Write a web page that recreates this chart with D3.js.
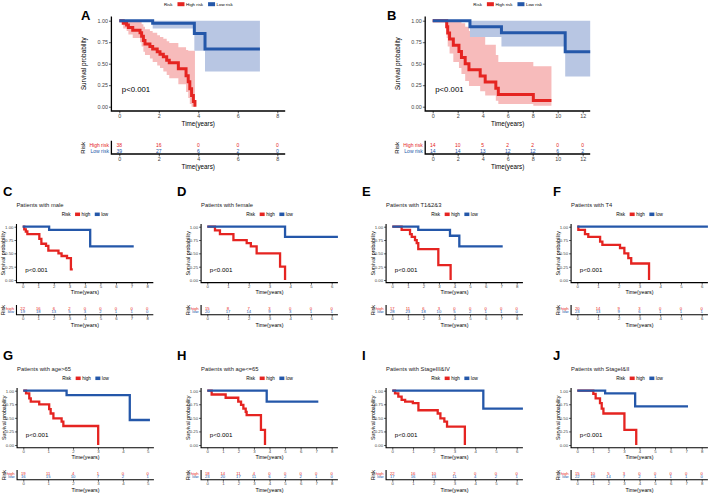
<!DOCTYPE html>
<html><head><meta charset="utf-8">
<script src="https://cdn.jsdelivr.net/npm/d3@7"></script>
<style>body{margin:0;background:#fff}svg{display:block}</style>
</head><body>
<svg id="c" width="708" height="493"></svg>
<script>
// ---------------- DATA ----------------
// Panel A (training cohort)
const A_ticks = [0, 2, 4, 6, 8];
const A_high_t  = [0, 0.2, 0.37, 0.46, 0.68, 1.05, 1.13, 1.22, 1.30, 1.55, 1.69, 1.92, 2.06, 2.23, 2.40, 2.53, 2.99, 3.38, 3.49, 3.57, 3.66, 3.75, 3.83];
const A_high_s  = [1, 0.97, 0.95, 0.92, 0.89, 0.86, 0.82, 0.77, 0.73, 0.70, 0.67, 0.64, 0.61, 0.58, 0.54, 0.51, 0.44, 0.36, 0.29, 0.21, 0.13, 0.06, 0];
const A_high_hi = [1, 1, 1, 1, 1, 0.99, 0.96, 0.93, 0.90, 0.88, 0.86, 0.83, 0.81, 0.79, 0.76, 0.74, 0.69, 0.66, 0.65, 0.65, 0.65, 0.65, 0.65];
const A_high_lo = [1, 0.91, 0.88, 0.84, 0.80, 0.75, 0.70, 0.64, 0.60, 0.56, 0.52, 0.48, 0.45, 0.41, 0.37, 0.33, 0.26, 0.17, 0.10, 0.03, 0, 0, 0];
const A_low_t   = [0, 1.69, 3.8, 4.34, 7.12];
const A_low_s   = [1, 0.97, 0.85, 0.67, 0.67];
const A_low_hi  = [1, 1, 1, 1, 1];
const A_low_lo  = [1, 0.91, 0.65, 0.41, 0.41];
const A_risk_high = [38, 16, 0, 0, 0];
const A_risk_low  = [39, 27, 6, 2, 0];

// Panel B (test cohort)
const B_ticks = [0, 2, 4, 6, 8, 10, 12];
const B_high_t  = [0, 1.12, 1.2, 1.35, 1.65, 2.1, 2.3, 2.6, 2.9, 3.8, 4.2, 5.05, 5.25, 8.05, 9.5];
const B_high_s  = [1, 0.929, 0.857, 0.786, 0.714, 0.643, 0.571, 0.5, 0.429, 0.357, 0.286, 0.214, 0.143, 0.071, 0.071];
const B_high_hi = [1, 1, 1, 1, 1, 1, 0.97, 0.93, 0.88, 0.82, 0.72, 0.6, 0.52, 0.47, 0.47];
const B_high_lo = [1, 0.8, 0.7, 0.62, 0.52, 0.45, 0.38, 0.3, 0.24, 0.18, 0.13, 0.07, 0.03, 0.01, 0.01];
const B_low_t   = [0, 2.98, 5.5, 10.6, 12.6];
const B_low_s   = [1, 0.93, 0.86, 0.64, 0.64];
const B_low_hi  = [1, 1, 1, 1, 1];
const B_low_lo  = [1, 0.81, 0.70, 0.35, 0.35];
const B_risk_high = [14, 10, 5, 2, 2, 0, 0];
const B_risk_low  = [14, 14, 13, 12, 12, 6, 2];

// Subgroup panels
const C_ticks = [0,1,2,3,4,5,6,7,8];
const C_high_t = [0, 0.1, 0.2, 0.3, 1.07, 1.2, 1.5, 1.65, 2.3, 2.5, 2.85, 3.1, 3.22];
const C_high_s = [1, 0.95, 0.91, 0.86, 0.77, 0.68, 0.64, 0.55, 0.5, 0.45, 0.41, 0.2, 0.2];
const C_low_t  = [0, 1.7, 4.34, 7.14];
const C_low_s  = [1, 0.94, 0.63, 0.63];
const C_risk_high = [22, 16, 6, 2, 0, 0, 0, 0, 0];
const C_risk_low  = [19, 18, 13, 5, 3, 2, 1, 1, 0];

const D_ticks = [0,1,2,3,4,5,6];
const D_high_t = [0, 0.37, 0.61, 1.26, 1.9, 2.1, 2.38, 3.51, 3.75];
const D_high_s = [1, 0.93, 0.86, 0.75, 0.69, 0.63, 0.5, 0.25, 0];
const D_low_t  = [0, 3.75, 6.3];
const D_low_s  = [1, 0.81, 0.81];
const D_risk_high = [15, 8, 7, 3, 0, 0, 0];
const D_risk_low  = [20, 17, 14, 9, 3, 1, 1];

const E_ticks = [0,1,2,3,4,5,6,7,8];
const E_high_t = [0, 0.6, 1.14, 1.25, 1.46, 1.57, 1.67, 2.96, 3.75];
const E_high_s = [1, 0.94, 0.86, 0.81, 0.75, 0.69, 0.58, 0.28, 0];
const E_low_t  = [0, 1.67, 3.71, 4.31, 7.1];
const E_low_s  = [1, 0.94, 0.83, 0.63, 0.63];
const E_risk_high = [17, 11, 6, 3, 0, 0, 0, 0, 0];
const E_risk_low  = [28, 23, 18, 10, 5, 2, 1, 1, 0];

const F_ticks = [0,1,2,3,4,5,6];
const F_high_t = [0, 0.05, 0.37, 0.53, 1.1, 1.21, 2.06, 2.27, 2.46, 2.6, 3.46];
const F_high_s = [1, 0.94, 0.86, 0.81, 0.72, 0.66, 0.6, 0.5, 0.41, 0.31, 0];
const F_low_t  = [0, 6.3];
const F_low_s  = [1, 1];
const F_risk_high = [20, 14, 9, 3, 0, 0, 0];
const F_risk_low  = [23, 13, 9, 6, 1, 1, 1];

const G_ticks = [0,1,2,3,4,5];
const G_high_t = [0, 0.11, 0.24, 0.3, 0.64, 1.04, 1.1, 1.21, 1.54, 1.61, 3.01];
const G_high_s = [1, 0.95, 0.86, 0.8, 0.75, 0.66, 0.58, 0.49, 0.43, 0.35, 0];
const G_low_t  = [0, 1.74, 4.28, 5.09];
const G_low_s  = [1, 0.92, 0.46, 0.46];
const G_risk_high = [19, 11, 4, 1, 0, 0];
const G_risk_low  = [16, 15, 10, 7, 2, 1];

const H_ticks = [0,1,2,3,4,5,6,7,8];
const H_high_t = [0, 0.28, 1.18, 1.99, 2.17, 2.32, 2.47, 2.53, 3.45, 3.71];
const H_high_s = [1, 0.93, 0.87, 0.8, 0.74, 0.67, 0.61, 0.55, 0.28, 0];
const H_low_t  = [0, 3.82, 7.14];
const H_low_s  = [1, 0.8, 0.8];
const H_risk_high = [18, 14, 11, 4, 0, 0, 0, 0, 0];
const H_risk_low  = [23, 20, 17, 11, 6, 2, 2, 1, 0];

const I_ticks = [0,1,2,3,4,5,6];
const I_high_t = [0, 0.13, 0.29, 0.45, 0.62, 0.99, 1.26, 2.19, 2.32, 2.51, 2.64, 3.5];
const I_high_s = [1, 0.95, 0.89, 0.83, 0.8, 0.77, 0.64, 0.58, 0.49, 0.43, 0.34, 0];
const I_low_t  = [0, 4.39, 6.3];
const I_low_s  = [1, 0.67, 0.67];
const I_risk_high = [22, 16, 10, 2, 0, 0, 0];
const I_risk_low  = [17, 16, 13, 11, 4, 2, 1];

const J_ticks = [0,1,2,3,4,5,6,7,8];
const J_high_t = [0, 1.03, 1.18, 1.46, 1.57, 1.68, 3.03, 3.79];
const J_high_s = [1, 0.94, 0.86, 0.77, 0.67, 0.58, 0.28, 0];
const J_low_t  = [0, 1.79, 3.72, 7.12];
const J_low_s  = [1, 0.95, 0.71, 0.71];
const J_risk_high = [15, 10, 5, 3, 0, 0, 0, 0, 0];
const J_risk_low  = [22, 19, 14, 7, 2, 1, 1, 1, 0];

const yTicks = [0, 0.25, 0.5, 0.75, 1];
const bigLabels = ["High risk", "Low risk"];
const smallLabels = ["high", "low"];
const titles = {
  C: "Patients with male", D: "Patients with female", E: "Patients with T1&2&3", F: "Patients with T4",
  G: "Patients with age>65", H: "Patients with age<=65", I: "Patients with StageIII&IV", J: "Patients with StageI&II"
};

// ---------------- STYLE ----------------
const FONT = '"Liberation Sans", Arial, Helvetica, sans-serif';
const RED = "#E52421", BLUE = "#2457A9", RED_FILL = "#F7BBBB", BLUE_FILL = "#B8C6E3";

const bigStyle = {lw: 3, axw: 1.3, tick: 2.4, pad: 0.6, tickFs: 5.4, titleFs: 6.3, pFs: 7.8,
  legFs: 4.4, keyW: 7, keyH: 4, legGap: 5, tableFs: 5, riskFs: 6, yTitleOff: 28, xTitleOff: 12, tTitleOff: 12.5};
const smallStyle = {lw: 2.3, axw: 1.1, tick: 2, pad: 0.6, tickFs: 4.3, titleFs: 5.3, pFs: 6.2,
  legFs: 4.6, keyW: 5, keyH: 3.5, legGap: 4.5, tableFs: 4.2, riskFs: 5.3, yTitleOff: 13.5, xTitleOff: 9.3, tTitleOff: 10,
  panelFs: 5.8};

const svg = d3.select("#c");

function drawPanel(p) {
  const st = p.style;
  const g = svg.append("g");
  const x = d3.scaleLinear().domain([0, p.xmax]).range([p.x0, p.x0 + p.width]);
  const y = d3.scaleLinear().domain([0, 1]).range([p.yBot, p.yTop]);
  const L = x(-0.05 * p.xmax), R = x(1.05 * p.xmax), B = y(-0.05), T = y(1.05);

  // confidence bands
  p.series.forEach(s => {
    if (!s.lo) return;
    const pts = s.t.map((t, i) => ({t, lo: s.lo[i], hi: s.hi[i]}));
    g.append("path")
      .attr("d", d3.area().curve(d3.curveStepAfter).x(d => x(d.t)).y0(d => y(d.lo)).y1(d => y(d.hi))(pts))
      .attr("fill", s.fill);
  });
  // survival curves
  p.series.forEach(s => {
    const pts = s.t.map((t, i) => ({t, v: s.s[i]}));
    g.append("path")
      .attr("d", d3.line().curve(d3.curveStepAfter).x(d => x(d.t)).y(d => y(d.v))(pts))
      .attr("fill", "none").attr("stroke", s.color).attr("stroke-width", st.lw);
  });

  // axes
  const gx = g.append("g").attr("transform", `translate(0,${B})`)
    .call(d3.axisBottom(x).tickValues(p.ticks).tickSize(st.tick).tickSizeOuter(0).tickPadding(st.pad).tickFormat(d3.format("d")));
  const gy = g.append("g").attr("transform", `translate(${L},0)`)
    .call(d3.axisLeft(y).tickValues(yTicks).tickSize(st.tick).tickSizeOuter(0).tickPadding(st.pad + 0.4).tickFormat(d3.format(".2f")));
  [gx, gy].forEach(a => {
    a.attr("font-family", FONT);
    a.select(".domain").remove();
    a.selectAll("text").attr("font-size", st.tickFs).attr("fill", "#444");
    a.selectAll("line").attr("stroke", "#333").attr("stroke-width", 0.8);
  });
  g.append("path").attr("d", `M${L},${T}V${B}H${R}`).attr("fill", "none")
    .attr("stroke", "#000").attr("stroke-width", st.axw);

  g.append("text").attr("x", (L + R) / 2).attr("y", B + st.xTitleOff).attr("text-anchor", "middle")
    .attr("dominant-baseline", "central").attr("font-family", FONT).attr("font-size", st.titleFs).text("Time(years)");
  g.append("text").attr("transform", `translate(${L - st.yTitleOff},${(T + B) / 2}) rotate(-90)`)
    .attr("text-anchor", "middle").attr("dominant-baseline", "central").attr("font-family", FONT)
    .attr("font-size", st.titleFs).text("Survival probability");

  // p-value
  g.append("text").attr("x", x(0) + 2.5).attr("y", y(0.2)).attr("dominant-baseline", "central")
    .attr("font-family", FONT).attr("font-size", st.pFs).text("p<0.001");

  // legend
  const lg = g.append("g");
  let xx = 0;
  const ly = p.legendY;
  const t0 = lg.append("text").attr("x", 0).attr("y", ly).attr("dominant-baseline", "central")
    .attr("font-family", FONT).attr("font-size", st.legFs).text("Risk");
  xx += t0.node().getComputedTextLength() + st.legGap;
  p.series.forEach((s, i) => {
    lg.append("rect").attr("x", xx).attr("y", ly - st.keyH / 2).attr("width", st.keyW).attr("height", st.keyH).attr("fill", s.color);
    xx += st.keyW + 1.5;
    const tt = lg.append("text").attr("x", xx).attr("y", ly).attr("dominant-baseline", "central")
      .attr("font-family", FONT).attr("font-size", st.legFs).text(p.labels[i]);
    xx += tt.node().getComputedTextLength() + st.legGap;
  });
  xx -= st.legGap;
  lg.attr("transform", `translate(${(L + R) / 2 - xx / 2},0)`);

  // panel letter and title
  g.append("text").attr("x", p.letter[0]).attr("y", p.letter[1]).attr("font-family", FONT)
    .attr("font-weight", "bold").attr("font-size", 13).text(p.id);
  if (p.title) {
    g.append("text").attr("x", L).attr("y", p.titleY).attr("dominant-baseline", "central")
      .attr("font-family", FONT).attr("font-size", st.panelFs).attr("fill", "#222").text(p.title);
  }

  // risk table
  const tb = p.table;
  p.series.forEach((s, i) => {
    const vals = tb.rows[i];
    g.append("g").selectAll("text").data(p.ticks).join("text")
      .attr("x", d => x(d)).attr("y", tb.rowY[i]).attr("text-anchor", "middle").attr("dominant-baseline", "central")
      .attr("font-family", FONT).attr("font-size", st.tableFs).attr("fill", s.color)
      .text((d, j) => vals[j]);
    g.append("text").attr("x", L - 2.5).attr("y", tb.rowY[i]).attr("text-anchor", "end").attr("dominant-baseline", "central")
      .attr("font-family", FONT).attr("font-size", st.tableFs).attr("fill", s.color).text(p.labels[i]);
  });
  const gt = g.append("g").attr("transform", `translate(0,${tb.axisY})`)
    .call(d3.axisBottom(x).tickValues(p.ticks).tickSize(st.tick).tickSizeOuter(0).tickPadding(st.pad).tickFormat(d3.format("d")));
  gt.attr("font-family", FONT);
  gt.select(".domain").remove();
  gt.selectAll("text").attr("font-size", st.tickFs).attr("fill", "#444");
  gt.selectAll("line").attr("stroke", "#333").attr("stroke-width", 0.8);
  g.append("path").attr("d", `M${L},${tb.rowY[0] - st.tableFs * 0.8}V${tb.axisY}H${R}`)
    .attr("fill", "none").attr("stroke", "#000").attr("stroke-width", st.axw);
  g.append("text").attr("x", (L + R) / 2).attr("y", tb.axisY + st.tTitleOff).attr("text-anchor", "middle")
    .attr("dominant-baseline", "central").attr("font-family", FONT).attr("font-size", st.titleFs).text("Time(years)");
  g.append("text").attr("transform", `translate(${L - st.yTitleOff},${(tb.rowY[0] + tb.rowY[1]) / 2}) rotate(-90)`)
    .attr("text-anchor", "middle").attr("dominant-baseline", "central").attr("font-family", FONT)
    .attr("font-size", st.riskFs).text("Risk");
}

function series(ht, hs, lt, ls, hlo, hhi, llo, lhi) {
  return [
    {t: ht, s: hs, lo: hlo, hi: hhi, color: RED, fill: RED_FILL},
    {t: lt, s: ls, lo: llo, hi: lhi, color: BLUE, fill: BLUE_FILL}
  ];
}

// big panels
drawPanel({id: "A", style: bigStyle, x0: 119.3, width: 158, xmax: 8, ticks: A_ticks,
  yTop: 20.7, yBot: 106.7, legendY: 4.2, letter: [81, 20], labels: bigLabels,
  series: series(A_high_t, A_high_s, A_low_t, A_low_s, A_high_lo, A_high_hi, A_low_lo, A_low_hi),
  table: {rows: [A_risk_high, A_risk_low], rowY: [144.7, 151.2], axisY: 154}});
drawPanel({id: "B", style: bigStyle, x0: 432.7, width: 150, xmax: 12, ticks: B_ticks,
  yTop: 20.7, yBot: 106.7, legendY: 4.2, letter: [387, 20], labels: bigLabels,
  series: series(B_high_t, B_high_s, B_low_t, B_low_s, B_high_lo, B_high_hi, B_low_lo, B_low_hi),
  table: {rows: [B_risk_high, B_risk_low], rowY: [144.7, 151.2], axisY: 154}});

// small panels
const smallDefs = [
  ["C", 22.7, 8, C_ticks, C_high_t, C_high_s, C_low_t, C_low_s, C_risk_high, C_risk_low, 3, 0],
  ["D", 207.3, 6, D_ticks, D_high_t, D_high_s, D_low_t, D_low_s, D_risk_high, D_risk_low, 177, 0],
  ["E", 392.3, 8, E_ticks, E_high_t, E_high_s, E_low_t, E_low_s, E_risk_high, E_risk_low, 362, 0],
  ["F", 577.3, 6, F_ticks, F_high_t, F_high_s, F_low_t, F_low_s, F_risk_high, F_risk_low, 553, 0],
  ["G", 23.3, 5, G_ticks, G_high_t, G_high_s, G_low_t, G_low_s, G_risk_high, G_risk_low, 3, 1],
  ["H", 207.3, 8, H_ticks, H_high_t, H_high_s, H_low_t, H_low_s, H_risk_high, H_risk_low, 177, 1],
  ["I", 392.3, 6, I_ticks, I_high_t, I_high_s, I_low_t, I_low_s, I_risk_high, I_risk_low, 362, 1],
  ["J", 577.3, 8, J_ticks, J_high_t, J_high_s, J_low_t, J_low_s, J_risk_high, J_risk_low, 553, 1]
];
smallDefs.forEach(d => {
  const [id, x0, xmax, ticks, ht, hs, lt, ls, rh, rl, lx, row] = d;
  const yTop = row ? 390.7 : 226.7, yBot = row ? 445 : 280;
  drawPanel({id, style: smallStyle, x0, width: 124.4, xmax, ticks, yTop, yBot,
    legendY: yTop - 12.4, titleY: yTop - 21.7, title: titles[id], letter: [lx, yTop - 30.3], labels: smallLabels,
    series: series(ht, hs, lt, ls),
    table: {rows: [rh, rl], rowY: [yBot + 28.4, yBot + 31.9], axisY: yBot + 34.7}});
});
</script>
</body></html>
